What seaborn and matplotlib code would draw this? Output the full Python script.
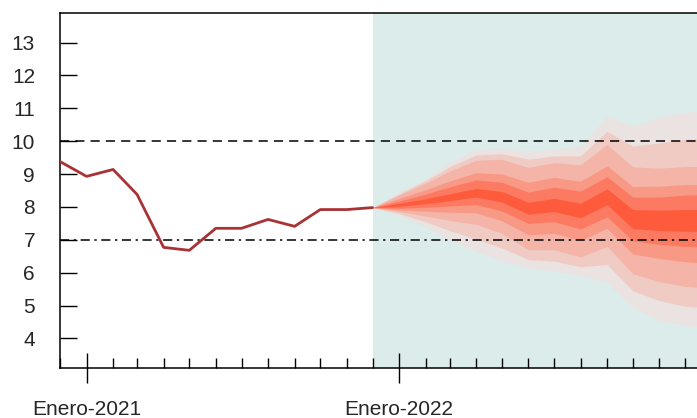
import pandas as pd
import seaborn as sns
import matplotlib.pyplot as plt
import matplotlib.dates as mdates

# observed series, Dec-2020 .. Dec-2021
hist_months = pd.date_range('2020-12-01', '2021-12-01', freq='MS')
hist_rate = [9.38, 8.93, 9.14, 8.38, 6.77, 6.68, 7.35, 7.35, 7.62, 7.41, 7.92, 7.92, 7.98]

# forecast fan quantiles, Dec-2021 .. Jan-2023
fan_months = pd.date_range('2021-12-01', '2023-01-01', freq='MS')
q02 = [7.98, 7.75, 7.40, 7.00, 6.65, 6.35, 6.15, 6.05, 5.90, 5.70, 4.95, 4.55, 4.40, 4.35]
q98 = [7.98, 8.45, 8.85, 9.35, 9.75, 9.80, 9.70, 9.75, 9.85, 10.75, 10.45, 10.75, 10.88, 10.90]
q05 = [7.98, 7.80, 7.55, 7.28, 7.02, 6.75, 6.40, 6.35, 6.18, 6.25, 5.45, 5.15, 4.98, 4.93]
q95 = [7.98, 8.40, 8.80, 9.22, 9.58, 9.62, 9.45, 9.55, 9.55, 10.30, 9.85, 9.95, 10.05, 10.08]
q10 = [7.98, 7.86, 7.72, 7.59, 7.47, 7.20, 6.70, 6.70, 6.48, 6.80, 5.97, 5.73, 5.58, 5.53]
q90 = [7.98, 8.36, 8.72, 9.09, 9.42, 9.45, 9.20, 9.35, 9.28, 9.90, 9.22, 9.18, 9.23, 9.23]
q20 = [7.98, 7.91, 7.87, 7.84, 7.82, 7.58, 7.15, 7.20, 6.98, 7.35, 6.57, 6.43, 6.33, 6.28]
q80 = [7.98, 8.26, 8.52, 8.79, 9.04, 9.00, 8.75, 8.90, 8.78, 9.25, 8.62, 8.63, 8.68, 8.68]
q30 = [7.98, 7.96, 7.99, 8.03, 8.07, 7.88, 7.50, 7.55, 7.33, 7.70, 6.97, 6.86, 6.80, 6.78]
q70 = [7.98, 8.18, 8.39, 8.61, 8.82, 8.75, 8.45, 8.60, 8.48, 8.92, 8.30, 8.30, 8.36, 8.38]
q40 = [7.98, 8.02, 8.10, 8.19, 8.30, 8.15, 7.78, 7.86, 7.67, 8.07, 7.34, 7.28, 7.26, 7.26]
q60 = [7.98, 8.11, 8.25, 8.40, 8.56, 8.47, 8.14, 8.26, 8.11, 8.55, 7.92, 7.90, 7.92, 7.92]

upper_ref = 10
lower_ref = 7
year_ticks = ['Enero-2021', 'Enero-2022']

sns.set_style('ticks')
plt.rcParams['font.family'] = ['Liberation Sans', 'DejaVu Sans']

fig = plt.figure(figsize=(6.97, 4.18), dpi=100)
ax = fig.add_axes([0.0861, 0.1196, 0.9139, 0.8493])

x_left = pd.Timestamp('2020-12-01')
x_right = pd.Timestamp('2022-12-15')
ax.axvspan(pd.Timestamp('2021-12-01'), x_right, color='#dcecea', lw=0, zorder=0)

band_pairs = [(q02, q98), (q05, q95), (q10, q90), (q20, q80), (q30, q70), (q40, q60)]
fan_colors = sns.blend_palette(['#ebe2e2', '#f6a898', '#fe5b3d'], len(band_pairs))
for (lo, hi), col in zip(band_pairs, fan_colors):
    ax.fill_between(fan_months, lo, hi, color=col, lw=0, zorder=1)

ax.axhline(upper_ref, color='black', lw=1.1, ls=(0, (6, 4)), zorder=2)
ax.axhline(lower_ref, color='black', lw=1.1, ls=(0, (6, 3, 1.5, 3)), zorder=2)

hist = pd.DataFrame({'mes': hist_months, 'tasa': hist_rate})
sns.lineplot(data=hist, x='mes', y='tasa', ax=ax, color='#a83234', lw=2, zorder=3)

ax.set_xlim(x_left, x_right)
ax.set_ylim(3.1, 13.9)
ax.set_yticks(range(4, 14))
ax.set_xlabel('')
ax.set_ylabel('')

ax.set_xticks(pd.to_datetime(['2021-01-01', '2022-01-01']))
ax.set_xticklabels(year_ticks)
ax.xaxis.set_minor_locator(mdates.MonthLocator())
ax.tick_params(axis='x', which='major', direction='inout', length=22, width=1,
               pad=12, labelsize=15, color='black')
ax.tick_params(axis='x', which='minor', direction='in', length=7, width=1, color='black')
ax.tick_params(axis='y', direction='in', length=12, width=1, pad=18, labelsize=15,
               color='black')

for side in ['left', 'bottom', 'top']:
    ax.spines[side].set_color('black')
    ax.spines[side].set_linewidth(1.1)
ax.spines['right'].set_visible(False)

fig.savefig('out.png', dpi=100)
